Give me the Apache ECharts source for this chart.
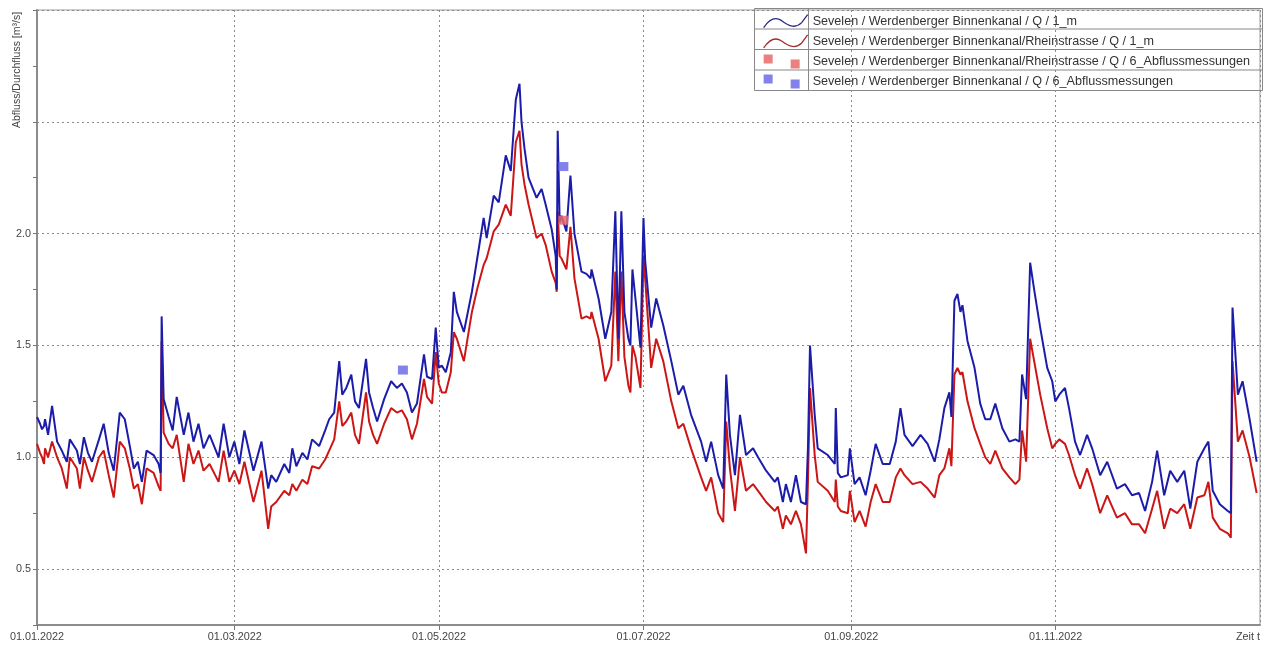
<!DOCTYPE html>
<html>
<head>
<meta charset="utf-8">
<script src="https://cdn.jsdelivr.net/npm/echarts@6/dist/echarts.min.js"></script>
<style>
html,body{margin:0;padding:0;background:#fff;}
#chart{width:1274px;height:648px;}
</style>
</head>
<body>
<div id="chart"></div>
<script>
// Day offsets from 01.01.2022 (fractional days)
const days = [0,0.9,1.5,2.1,2.4,3.3,4.5,6.0,7.4,8.9,9.8,11.9,12.8,14.0,15.2,16.4,18.5,19.9,21.4,22.9,24.7,26.2,27.7,28.9,30.1,31.3,32.7,34.8,36.3,36.9,37.2,37.8,39.3,40.5,41.7,43.8,45.2,46.7,48.2,49.7,51.5,54.2,55.7,57.4,58.9,60.4,61.9,64.6,67.0,69.0,69.9,71.4,73.8,75.3,76.2,77.4,79.2,80.7,82.1,84.2,86.0,87.2,88.7,90.2,91.1,92.3,93.8,94.9,96.1,98.2,99.1,100.3,101.5,103.6,105.7,107.4,108.9,110.4,111.9,113.4,115.5,116.4,117.9,119.0,119.9,120.8,122.0,123.5,124.4,125.3,127.4,129.8,131.5,133.3,134.2,136.3,137.8,139.9,141.4,142.9,144.0,144.6,145.5,146.7,149.1,150.6,151.8,153.6,154.8,155.1,155.4,156.0,156.5,158.0,159.2,160.4,162.5,164.0,165.2,165.5,167.6,169.6,171.4,172.6,173.5,174.4,175.3,176.5,177.1,177.7,178.6,180.1,181.0,181.5,183.3,184.8,186.9,189.3,191.4,192.9,195.2,198.2,199.7,201.2,203.3,204.8,205.7,206.8,208.3,209.8,211.6,213.7,215.2,217.6,220.2,221.1,222.6,223.5,225.0,226.5,228.0,229.5,230.1,230.7,232.1,233.0,236.0,238.1,238.4,239.0,239.9,242.0,242.6,244.0,245.5,247.3,248.8,250.3,252.4,254.5,256.3,257.7,258.9,261.3,263.7,265.8,267.9,269.3,270.8,272.3,272.9,273.8,274.7,275.6,276.2,277.7,279.8,281.5,283.0,284.5,286.0,288.1,290.2,292.0,293.2,294.0,295.2,296.4,297.6,299.4,301.5,303.0,303.9,305.1,306.8,308.0,309.8,311.3,313.4,314.9,317.3,319.4,322.3,324.7,326.8,328.9,330.7,332.8,334.3,336.4,338.2,340.3,342.4,344.2,346.3,348.4,349.6,350.9,353.0,355.4,356.3,356.8,358.4,359.8,361.9,364.0];

// Sevelen / Werdenberger Binnenkanal / Q / 1_m  (m³/s)
const blueQ = [1.18,1.15,1.125,1.14,1.17,1.10,1.23,1.07,1.03,0.98,1.08,1.03,0.97,1.09,1.02,0.98,1.08,1.15,1.02,0.94,1.20,1.17,1.05,0.95,0.98,0.89,1.03,1.01,0.97,0.93,1.63,1.26,1.18,1.12,1.27,1.10,1.20,1.07,1.15,1.04,1.10,1.00,1.15,1.00,1.07,0.97,1.12,0.94,1.07,0.86,0.92,0.89,0.97,0.93,1.04,0.96,1.02,0.99,1.08,1.05,1.12,1.17,1.20,1.43,1.28,1.31,1.37,1.25,1.22,1.44,1.29,1.22,1.16,1.26,1.34,1.31,1.33,1.29,1.20,1.24,1.46,1.36,1.35,1.58,1.40,1.41,1.38,1.47,1.74,1.65,1.56,1.74,1.90,2.07,1.98,2.17,2.14,2.35,2.28,2.60,2.67,2.50,2.38,2.25,2.16,2.20,2.13,2.02,1.90,1.75,2.46,2.05,2.08,2.01,2.26,2.00,1.83,1.82,1.80,1.84,1.71,1.53,1.65,2.10,1.53,2.10,1.65,1.53,1.50,1.84,1.71,1.49,2.07,1.88,1.58,1.71,1.59,1.43,1.28,1.32,1.19,1.07,0.98,1.07,0.92,0.86,1.37,1.10,0.92,1.19,1.01,1.04,1.00,0.94,0.89,0.91,0.80,0.88,0.80,0.92,0.80,0.79,1.05,1.50,1.19,1.04,1.01,0.97,1.22,0.93,0.91,0.92,1.04,0.88,0.91,0.83,0.94,1.06,0.97,0.97,1.07,1.22,1.10,1.05,1.10,1.06,0.98,1.08,1.22,1.29,1.18,1.70,1.73,1.65,1.68,1.52,1.40,1.24,1.17,1.17,1.24,1.13,1.07,1.08,1.07,1.37,1.26,1.87,1.75,1.58,1.40,1.34,1.25,1.28,1.31,1.22,1.07,1.01,1.10,1.04,0.92,0.98,0.86,0.88,0.83,0.84,0.76,0.89,1.03,0.83,0.94,0.89,0.94,0.77,0.98,1.04,1.07,0.85,0.79,0.76,0.75,1.67,1.28,1.34,1.17,0.98];

// Sevelen / Werdenberger Binnenkanal/Rheinstrasse / Q / 1_m  (m³/s)
const redQ = [1.06,1.02,1.00,0.97,1.04,1.00,1.07,1.00,0.95,0.86,1.00,0.95,0.86,1.00,0.94,0.89,1.00,1.03,0.92,0.82,1.07,1.04,0.95,0.86,0.88,0.79,0.95,0.93,0.87,0.85,1.52,1.11,1.06,1.04,1.10,0.89,1.06,0.97,1.03,0.94,0.97,0.89,1.03,0.89,0.94,0.88,0.98,0.80,0.94,0.68,0.78,0.80,0.85,0.83,0.88,0.85,0.90,0.88,0.96,0.95,0.99,1.03,1.08,1.25,1.14,1.16,1.20,1.10,1.06,1.29,1.16,1.10,1.06,1.15,1.22,1.20,1.21,1.17,1.08,1.15,1.35,1.27,1.24,1.47,1.33,1.29,1.29,1.38,1.56,1.53,1.43,1.65,1.76,1.86,1.89,2.01,2.04,2.13,2.08,2.41,2.46,2.31,2.22,2.13,1.98,2.00,1.95,1.83,1.78,1.74,2.10,1.90,1.89,1.84,2.03,1.80,1.62,1.63,1.62,1.65,1.53,1.34,1.41,1.83,1.43,1.83,1.45,1.32,1.29,1.50,1.45,1.31,1.90,1.80,1.40,1.53,1.43,1.25,1.13,1.15,1.04,0.91,0.85,0.91,0.75,0.71,1.16,0.95,0.76,1.00,0.85,0.88,0.85,0.80,0.76,0.78,0.68,0.74,0.70,0.76,0.70,0.57,0.90,1.31,1.01,0.89,0.85,0.80,0.90,0.78,0.76,0.75,0.85,0.71,0.76,0.69,0.80,0.88,0.80,0.80,0.91,0.95,0.92,0.88,0.89,0.86,0.82,0.92,0.95,1.04,0.96,1.37,1.40,1.37,1.38,1.25,1.13,1.06,1.00,0.97,1.03,0.95,0.91,0.88,0.90,1.12,0.98,1.53,1.43,1.28,1.13,1.04,1.06,1.08,1.06,1.01,0.92,0.86,0.95,0.88,0.75,0.83,0.73,0.75,0.70,0.70,0.66,0.77,0.85,0.68,0.77,0.75,0.79,0.68,0.82,0.83,0.89,0.73,0.68,0.66,0.64,1.43,1.07,1.12,1.00,0.84];

// Abflussmessungen (discharge measurements)
const blueMeasDays = [109.2, 157.1];
const blueMeasQ = [1.39, 2.30];
const redMeasDays = [157.1];
const redMeasQ = [2.06];

const yTickLabels = ['0.5','1.0','1.5','2.0'];
const seriesNames = [
  'Sevelen / Werdenberger Binnenkanal / Q / 1_m',
  'Sevelen / Werdenberger Binnenkanal/Rheinstrasse / Q / 1_m',
  'Sevelen / Werdenberger Binnenkanal/Rheinstrasse / Q / 6_Abflussmessungen',
  'Sevelen / Werdenberger Binnenkanal / Q / 6_Abflussmessungen'
];

const base = new Date(2022,0,1).getTime();
const DAY = 86400000;
const toT = d => base + d*DAY;
const blueData = days.map((d,i)=>[toT(d), blueQ[i]]);
const redData = days.map((d,i)=>[toT(d), redQ[i]]);
const blueMeas = blueMeasDays.map((d,i)=>[toT(d), blueMeasQ[i]]);
const redMeas = redMeasDays.map((d,i)=>[toT(d), redMeasQ[i]]);

const BLUE = '#1c1caa', RED = '#cc1616';
const FONT = 'Liberation Sans, Arial, sans-serif';
const wave = 'path://M0,13 C6,4 12,2 18,6 C26,12 32,14 38,8 L44,0';
const squares = 'path://M0,0h9v9h-9z M27,5h9v9h-9z M43.9,13.9h0.1v0.1h-0.1z';

const chart = echarts.init(document.getElementById('chart'));
chart.setOption({
  animation:false,
  backgroundColor:'#fff',
  grid:{left:37,right:14,top:10,bottom:23,show:true,borderColor:'#9a9a9a',borderWidth:1,containLabel:false,outerBoundsMode:'none'},
  legend:{
    orient:'vertical', left:758, top:9, itemWidth:44, itemHeight:14, itemGap:6,
    textStyle:{fontFamily:FONT,fontSize:12.6,color:'#333',padding:[0,0,0,0]},
    data:[
      {name:seriesNames[0],icon:wave,itemStyle:{color:'rgba(0,0,0,0)',borderColor:'#2a2a80',borderWidth:1.3}},
      {name:seriesNames[1],icon:wave,itemStyle:{color:'rgba(0,0,0,0)',borderColor:'#a03030',borderWidth:1.3}},
      {name:seriesNames[2],icon:squares,itemStyle:{color:'#e86a6a',borderWidth:0}},
      {name:seriesNames[3],icon:squares,itemStyle:{color:'#6c6ce6',borderWidth:0}}
    ]
  },
  graphic:[
    {type:'rect',shape:{x:754.5,y:8.5,width:508,height:82},style:{fill:'none',stroke:'#888',lineWidth:1},z:100,silent:true},
    {type:'line',shape:{x1:808.5,y1:8.5,x2:808.5,y2:90.5},style:{stroke:'#888',lineWidth:1},z:100,silent:true},
    {type:'line',shape:{x1:754.5,y1:29,x2:1262.5,y2:29},style:{stroke:'#888',lineWidth:1},z:100,silent:true},
    {type:'line',shape:{x1:754.5,y1:49.5,x2:1262.5,y2:49.5},style:{stroke:'#888',lineWidth:1},z:100,silent:true},
    {type:'line',shape:{x1:754.5,y1:70,x2:1262.5,y2:70},style:{stroke:'#888',lineWidth:1},z:100,silent:true}
  ],
  xAxis:{
    type:'time', min:toT(0), max:toT(365),
    minInterval:59*DAY, maxInterval:62*DAY,
    name:'Zeit t', nameLocation:'end', nameGap:-24,
    nameTextStyle:{fontFamily:FONT,fontSize:10.8,color:'#444',verticalAlign:'top',padding:[7,0,0,0]},
    axisLine:{lineStyle:{color:'#8c8c8c',width:2}},
    axisTick:{show:true,length:5,lineStyle:{color:'#777'}},
    axisLabel:{fontFamily:FONT,fontSize:10.8,color:'#444',margin:7,hideOverlap:false,
      formatter:function(v){const d=new Date(v); if(d.getFullYear()>2022) return ''; const p=n=>String(n).padStart(2,'0'); return p(d.getDate())+'.'+p(d.getMonth()+1)+'.'+d.getFullYear();}},
    splitLine:{show:true,lineStyle:{color:'#8a8a8a',type:[2,3],width:1}}
  },
  yAxis:{
    type:'value', min:0.25, max:3.0, interval:0.25,
    name:'Abfluss/Durchfluss [m³/s]', nameLocation:'end', nameRotate:90, nameGap:-60,
    nameTextStyle:{fontFamily:FONT,fontSize:10.5,color:'#444',align:'center',verticalAlign:'bottom',padding:[0,0,14,0]},
    axisLine:{show:true,lineStyle:{color:'#8c8c8c',width:2}},
    axisTick:{show:true,length:4,lineStyle:{color:'#777'}},
    axisLabel:{fontFamily:FONT,fontSize:10.8,color:'#444',margin:6,
      formatter:function(v){const s=v.toFixed(1); return yTickLabels.indexOf(s)>=0 && Math.abs(v*2-Math.round(v*2))<1e-6 ? s : '';}},
    splitLine:{show:true,lineStyle:{color:['rgba(0,0,0,0)','#8a8a8a'],type:[2,3],width:1}}
  },
  series:[
    {name:seriesNames[0],type:'line',data:blueData,showSymbol:false,symbol:'none',lineStyle:{color:BLUE,width:2},itemStyle:{color:BLUE},z:3},
    {name:seriesNames[1],type:'line',data:redData,showSymbol:false,symbol:'none',lineStyle:{color:RED,width:2},itemStyle:{color:RED},z:2},
    {name:seriesNames[2],type:'scatter',data:redMeas,symbol:'rect',symbolSize:[10,9],itemStyle:{color:'#e86a6a',opacity:0.85},z:4},
    {name:seriesNames[3],type:'scatter',data:blueMeas,symbol:'rect',symbolSize:[10,9],itemStyle:{color:'#6c6ce6',opacity:0.85},z:5}
  ]
});
</script>
</body>
</html>
